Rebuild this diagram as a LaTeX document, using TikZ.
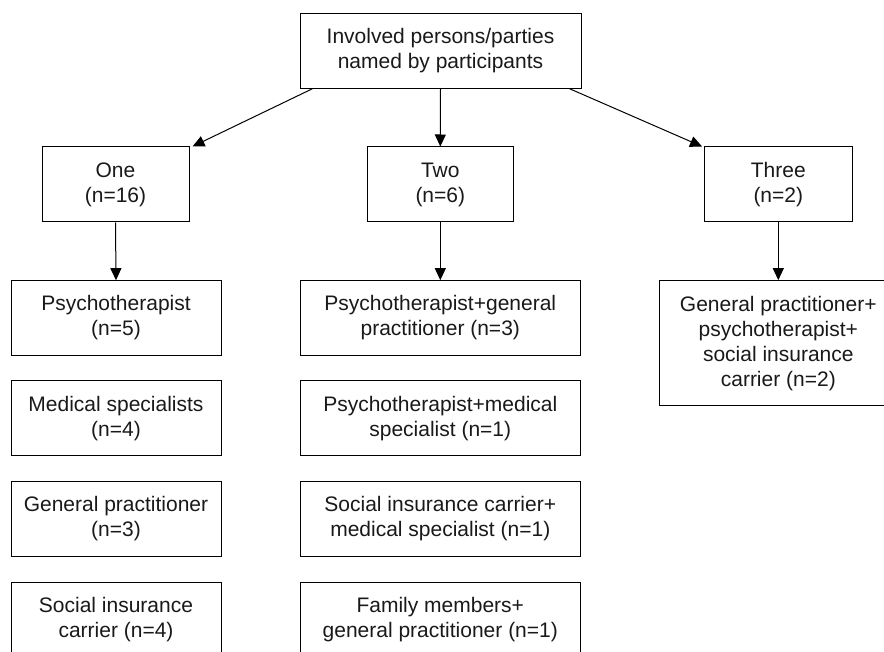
\documentclass[tikz,border=0pt]{standalone}
\usepackage{fontspec}
\setmainfont{Liberation Sans}
\usetikzlibrary{arrows.meta,calc}
\begin{document}
\begin{tikzpicture}[x=1pt,y=-1pt,
  box/.style={draw=black,line width=1pt,align=center,inner sep=0pt,
    font=\fontsize{21}{25}\selectfont,text=black!90},
  arr/.style={draw=black,line width=1pt,-{Triangle[length=12pt,width=11pt]}}]
\useasboundingbox (0,0) rectangle (884,652);
\clip (0,0) rectangle (884,652);
\node[box,minimum width=281pt,minimum height=75pt] (top) at (440.5,50.7) {Involved persons/parties\\named by participants};
\node[box,minimum width=147pt,minimum height=75pt] (one) at (115.5,184.5) {One\\(n=16)};
\node[box,minimum width=146.5pt,minimum height=75pt] (two) at (440.3,184.5) {Two\\(n=6)};
\node[box,minimum width=147.5pt,minimum height=75pt] (three) at (778.3,184.5) {Three\\(n=2)};
\node[box,minimum width=210pt,minimum height=74.6pt] (l1) at (116,318) {Psychotherapist\\(n=5)};
\node[box,minimum width=210pt,minimum height=74.6pt] (l2) at (116,418.3) {Medical specialists\\(n=4)};
\node[box,minimum width=210pt,minimum height=74.6pt] (l3) at (116,519) {General practitioner\\(n=3)};
\node[box,minimum width=210pt,minimum height=75pt] (l4) at (116,619.5) {Social insurance\\carrier (n=4)};
\node[box,minimum width=280.6pt,minimum height=74.6pt] (m1) at (440.3,318) {Psychotherapist+general\\practitioner (n=3)};
\node[box,minimum width=280.6pt,minimum height=74.6pt] (m2) at (440.3,418.3) {Psychotherapist+medical\\specialist (n=1)};
\node[box,minimum width=280.6pt,minimum height=74.6pt] (m3) at (440.3,519) {Social insurance carrier+\\medical specialist (n=1)};
\node[box,minimum width=280.6pt,minimum height=75pt] (m4) at (440.3,619.5) {Family members+\\general practitioner (n=1)};
\node[box,minimum width=237.5pt,minimum height=125.3pt] (r1) at (778.3,343.3) {General practitioner+\\psychotherapist+\\social insurance\\carrier (n=2)};
\coordinate (tl) at ($(top.south west)+(13,0)$);
\coordinate (tr) at ($(top.south east)+(-12,0)$);
\coordinate (oe) at ($(one.north east)+(3,0)$);
\coordinate (tw) at ($(three.north west)+(-2,0)$);
\draw[arr] (tl) -- (oe);
\draw[arr] (top.south) -- (two.north);
\draw[arr] (tr) -- (tw);
\draw[arr] (one.south) -- (l1.north);
\draw[arr] (two.south) -- (m1.north);
\draw[arr] (three.south) -- (r1.north);
\end{tikzpicture}
\end{document}
